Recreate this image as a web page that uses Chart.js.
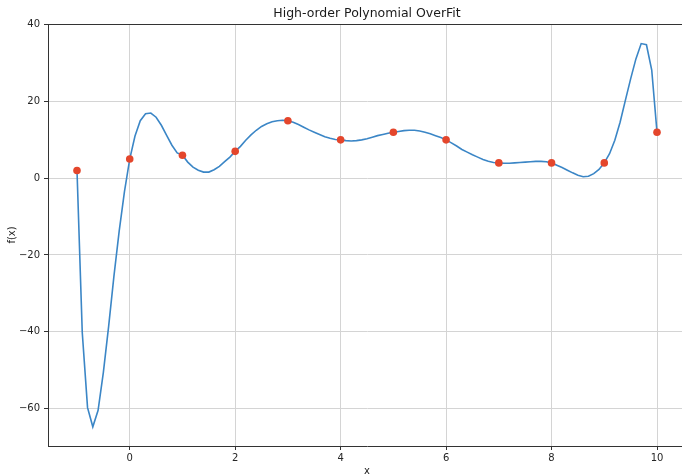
<!DOCTYPE html>
<html>
<head>
<meta charset="utf-8">
<script src="https://cdn.jsdelivr.net/npm/chart.js@4/dist/chart.umd.min.js"></script>
<style>
html,body{margin:0;padding:0;background:#fff;overflow:hidden;width:682px;height:476px;}
canvas{display:block;}
</style>
</head>
<body>
<canvas id="c" width="690" height="476" style="width:690px;height:476px"></canvas>
<script>
// Observed data points
const pointX = [-1, 0, 1, 2, 3, 4, 5, 6, 7, 8, 9, 10];
const pointY = [2, 5, 6, 7, 15, 10, 12, 10, 4, 4, 4, 12];

const curveX = [-1,-0.9,-0.8,-0.7,-0.6,-0.5,-0.4,-0.3,-0.2,-0.1,
  0,0.1,0.2,0.3,0.4,0.5,0.6,0.7,0.8,0.9,
  1,1.1,1.2,1.3,1.4,1.5,1.6,1.7,1.8,1.9,
  2,2.1,2.2,2.3,2.4,2.5,2.6,2.7,2.8,2.9,
  3,3.1,3.2,3.3,3.4,3.5,3.6,3.7,3.8,3.9,
  4,4.1,4.2,4.3,4.4,4.5,4.6,4.7,4.8,4.9,
  5,5.1,5.2,5.3,5.4,5.5,5.6,5.7,5.8,5.9,
  6,6.1,6.2,6.3,6.4,6.5,6.6,6.7,6.8,6.9,
  7,7.1,7.2,7.3,7.4,7.5,7.6,7.7,7.8,7.9,
  8,8.1,8.2,8.3,8.4,8.5,8.6,8.7,8.8,8.9,
  9,9.1,9.2,9.3,9.4,9.5,9.6,9.7,9.8,9.9,10];
const curveY = [2,-40.3,-59.8,-64.8,-60.5,-50.6,-38.6,-25.6,-13.8,-3.5,
  5,11,15,16.8,17.0,15.9,13.8,11.2,8.6,6.6,
  6,4.2,2.9,2.1,1.6,1.6,2.2,3.1,4.3,5.5,
  7,8.3,9.9,11.3,12.5,13.5,14.2,14.7,15.0,15.1,
  15,14.6,14.0,13.3,12.6,12.0,11.4,10.8,10.4,10.1,
  10,9.8,9.7,9.8,10.0,10.3,10.7,11.1,11.4,11.7,
  12,12.2,12.4,12.5,12.5,12.3,12.0,11.6,11.1,10.6,
  10,9.2,8.4,7.5,6.8,6.1,5.5,4.9,4.4,4.1,
  4,3.9,3.9,4.0,4.1,4.2,4.3,4.4,4.4,4.3,
  4,3.4,2.8,2.1,1.4,0.8,0.4,0.5,1.2,2.3,
  4,6.4,9.9,14.6,20.3,25.9,31.1,35.1,34.8,28.2,12];

const xTicks = [0, 2, 4, 6, 8, 10];
const yTicks = [-60, -40, -20, 0, 20, 40];

const titleText = 'High-order Polynomial OverFit';
const xLabel = 'x';
const yLabel = 'f(x)';

const FONT = "'DejaVu Sans', sans-serif";
const SPINE = '#333333';
const GRID = '#d4d4d4';

const fmt = v => (v < 0 ? '\u2212' + Math.abs(v) : String(v));

const decor = {
  id: 'decor',
  afterDraw(chart) {
    const ctx = chart.ctx;
    const a = chart.chartArea;
    ctx.save();
    ctx.strokeStyle = SPINE;
    ctx.lineWidth = 1;
    ctx.beginPath();
    ctx.moveTo(Math.round(a.left) - 0.5, Math.round(a.top) + 0.5);
    ctx.lineTo(Math.round(a.right) + 0.5, Math.round(a.top) + 0.5);
    ctx.moveTo(Math.round(a.right) + 0.5, Math.round(a.top));
    ctx.lineTo(Math.round(a.right) + 0.5, Math.round(a.bottom));
    ctx.stroke();
    ctx.fillStyle = '#1a1a1a';
    ctx.textAlign = 'center';
    ctx.textBaseline = 'middle';
    const cx = (a.left + a.right) / 2;
    ctx.font = '12.5px ' + FONT;
    ctx.fillText(titleText, cx, 14);
    ctx.font = '10px ' + FONT;
    ctx.fillText(xLabel, cx, 471);
    ctx.translate(12, (a.top + a.bottom) / 2);
    ctx.rotate(-Math.PI / 2);
    ctx.fillText(yLabel, 0, 0);
    ctx.restore();
  }
};

new Chart(document.getElementById('c'), {
  type: 'scatter',
  data: {
    datasets: [
      {
        label: 'data',
        data: pointX.map((x, i) => ({ x: x, y: pointY[i] })),
        backgroundColor: '#e4462c',
        borderColor: '#e4462c',
        pointRadius: 3.8,
        pointBorderWidth: 0,
        showLine: false
      },
      {
        label: 'fit',
        data: curveX.map((x, i) => ({ x: x, y: curveY[i] })),
        showLine: true,
        borderColor: '#3b86c6',
        borderWidth: 1.6,
        pointRadius: 0,
        tension: 0,
        fill: false
      }
    ]
  },
  options: {
    responsive: false,
    devicePixelRatio: 1,
    animation: false,
    layout: { padding: { top: 24, left: 0, right: 1, bottom: 0 } },
    plugins: {
      legend: { display: false },
      tooltip: { enabled: false },
      title: { display: false }
    },
    scales: {
      x: {
        type: 'linear',
        min: -1.55,
        max: 10.55,
        afterBuildTicks: s => { s.ticks = xTicks.map(v => ({ value: v })); },
        afterFit: s => { s.height = 30; },
        ticks: {
          callback: v => fmt(v),
          font: { family: FONT, size: 10 },
          color: '#262626',
          padding: 2,
          maxRotation: 0,
          autoSkip: false
        },
        grid: { color: GRID, lineWidth: 1, tickColor: SPINE, tickLength: 4, drawTicks: true },
        border: { display: true, color: SPINE, width: 1 }
      },
      y: {
        type: 'linear',
        min: -69.8,
        max: 40.2,
        afterBuildTicks: s => { s.ticks = yTicks.map(v => ({ value: v })); },
        afterFit: s => { s.width = 48; },
        ticks: {
          callback: v => fmt(v),
          font: { family: FONT, size: 10 },
          color: '#262626',
          padding: 4,
          autoSkip: false
        },
        grid: { color: GRID, lineWidth: 1, tickColor: SPINE, tickLength: 4, drawTicks: true },
        border: { display: true, color: SPINE, width: 1 }
      }
    }
  },
  plugins: [decor]
});
</script>
</body>
</html>
